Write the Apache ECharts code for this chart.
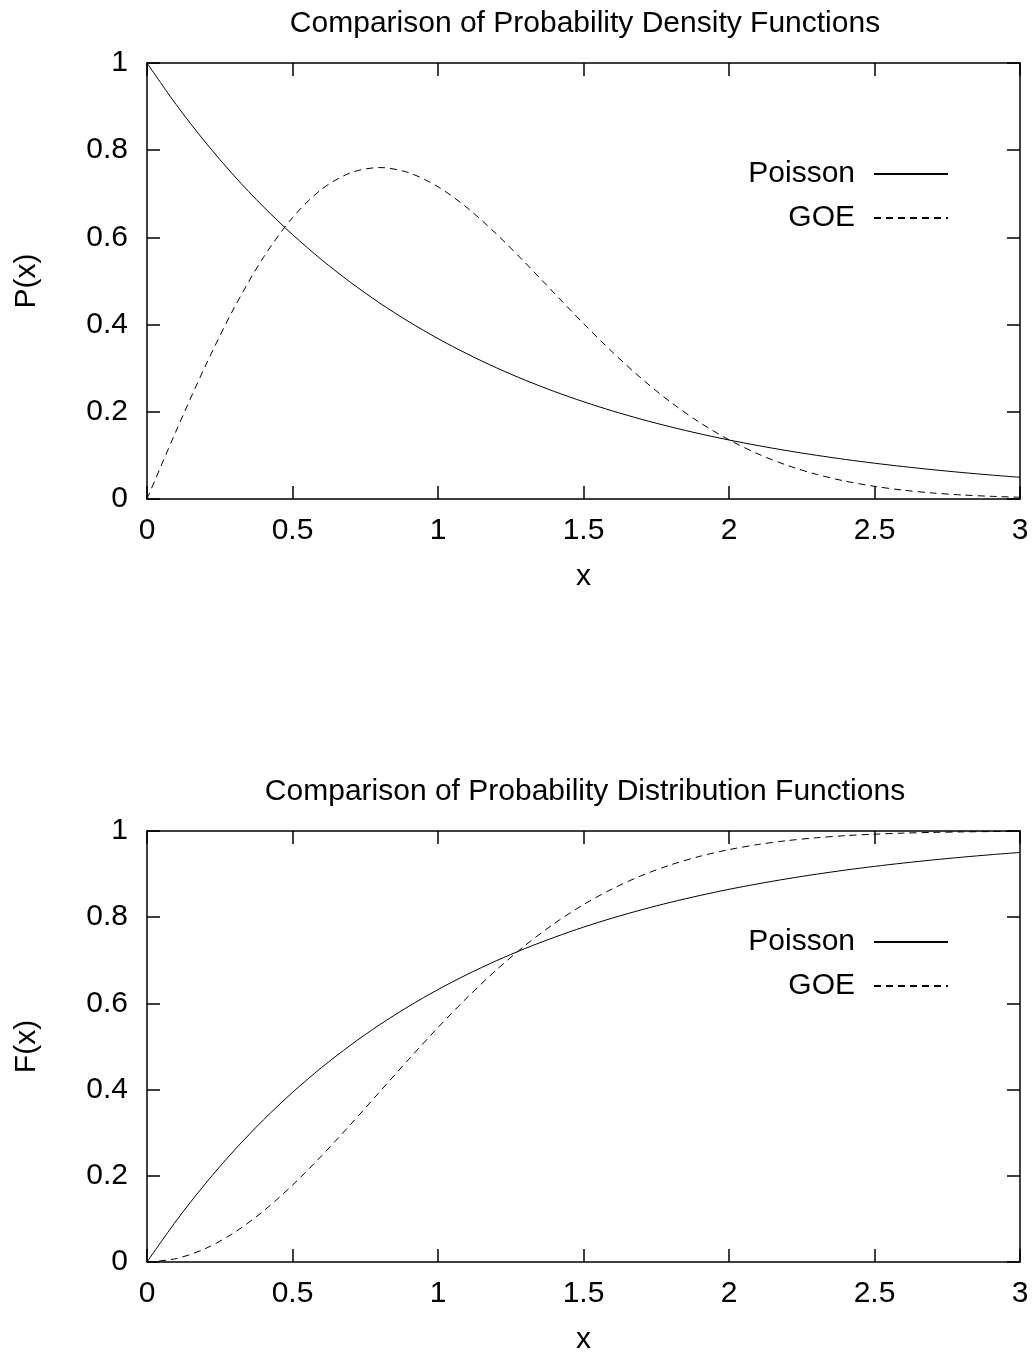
<!DOCTYPE html>
<html>
<head>
<meta charset="utf-8">
<script src="https://cdn.jsdelivr.net/npm/echarts@6/dist/echarts.min.js"></script>
<style>
html,body{margin:0;padding:0;background:#fff;}
#chart{width:1035px;height:1356px;}
</style>
</head>
<body>
<div id="chart"></div>
<script>
// Sample x positions (read along the x axis)
var xValues = [0,0.1,0.2,0.3,0.4,0.5,0.6,0.7,0.8,0.9,1.0,1.1,1.2,1.3,1.4,1.5,1.6,1.7,1.8,1.9,2.0,2.1,2.2,2.3,2.4,2.5,2.6,2.7,2.8,2.9,3.0];
// Top panel: probability density P(x)
var poissonPdf = [1,0.9048,0.8187,0.7408,0.6703,0.6065,0.5488,0.4966,0.4493,0.4066,0.3679,0.3329,0.3012,0.2725,0.2466,0.2231,0.2019,0.1827,0.1653,0.1496,0.1353,0.1225,0.1108,0.1003,0.0907,0.0821,0.0743,0.0672,0.0608,0.0550,0.0498];
var goePdf = [0,0.1559,0.3044,0.4391,0.5541,0.6454,0.7104,0.7483,0.7602,0.7483,0.7162,0.6680,0.6083,0.5416,0.4718,0.4025,0.3366,0.2759,0.2219,0.1752,0.1358,0.1033,0.0772,0.0567,0.0409,0.0290,0.0202,0.0138,0.0093,0.0062,0.0040];
// Bottom panel: distribution F(x)
var poissonCdf = [0,0.0952,0.1813,0.2592,0.3297,0.3935,0.4512,0.5034,0.5507,0.5934,0.6321,0.6671,0.6988,0.7275,0.7534,0.7769,0.7981,0.8173,0.8347,0.8504,0.8647,0.8775,0.8892,0.8997,0.9093,0.9179,0.9257,0.9328,0.9392,0.9450,0.9502];
var goeCdf = [0,0.0078,0.0309,0.0683,0.1181,0.1783,0.2463,0.3194,0.3951,0.4707,0.5441,0.6134,0.6773,0.7348,0.7855,0.8292,0.8661,0.8967,0.9215,0.9413,0.9568,0.9687,0.9777,0.9843,0.9892,0.9926,0.9951,0.9967,0.9979,0.9987,0.9991];

var titles = ['Comparison of Probability Density Functions','Comparison of Probability Distribution Functions'];
var yNames = ['P(x)','F(x)'];
var xName = 'x';
var seriesNames = ['Poisson','GOE'];

function pairs(vals){ return xValues.map(function(x,i){ return [x, vals[i]]; }); }

var FONT = '"Liberation Sans", Arial, Helvetica, sans-serif';
var FS = 30;
var fmt = function(v){ return String(+(+v).toFixed(2)); };

var gridTops = [63, 831];
var grids = gridTops.map(function(t){ return {left:147, top:t, width:873, height:436, containLabel:false}; });

var xAxes = [], yAxes = [];
[0,1].forEach(function(g){
  var lineStyle = {color:'#000', width:1.5};
  var tick = {show:true, inside:true, length:13, lineStyle:{color:'#000', width:1.5}};
  xAxes.push({
    type:'value', gridIndex:g, position:'bottom', min:0, max:3, interval:0.5,
    name:xName, nameLocation:'middle', nameGap:63,
    nameTextStyle:{fontFamily:FONT, fontSize:FS, color:'#000'},
    axisLine:{show:true, onZero:false, lineStyle:lineStyle},
    axisTick:tick,
    axisLabel:{show:true, margin:17, fontFamily:FONT, fontSize:FS, color:'#000', formatter:fmt, showMinLabel:true, showMaxLabel:true},
    splitLine:{show:false}
  });
  xAxes.push({
    type:'value', gridIndex:g, position:'top', min:0, max:3, interval:0.5,
    axisLine:{show:true, onZero:false, lineStyle:lineStyle},
    axisTick:tick,
    axisLabel:{show:false}, splitLine:{show:false}
  });
  yAxes.push({
    type:'value', gridIndex:g, position:'left', min:0, max:1, interval:0.2,
    name:yNames[g], nameLocation:'middle', nameGap:105, nameRotate:90,
    nameTextStyle:{fontFamily:FONT, fontSize:FS, color:'#000'},
    axisLine:{show:true, onZero:false, lineStyle:lineStyle},
    axisTick:tick,
    axisLabel:{show:true, margin:19, fontFamily:FONT, fontSize:FS, color:'#000', formatter:fmt, showMinLabel:true, showMaxLabel:true},
    splitLine:{show:false}
  });
  yAxes.push({
    type:'value', gridIndex:g, position:'right', min:0, max:1, interval:0.2,
    axisLine:{show:true, onZero:false, lineStyle:lineStyle},
    axisTick:tick,
    axisLabel:{show:false}, splitLine:{show:false}
  });
});

function lineSeries(name, vals, g, dashed){
  return {
    name:name, type:'line', xAxisIndex:g*2, yAxisIndex:g*2,
    data:pairs(vals), smooth:0.3, symbol:'none', showSymbol:false,
    lineStyle:{color:'#000', width:1, type: dashed ? [7,5] : 'solid'},
    itemStyle:{color:'#000'},
    animation:false, z:3
  };
}

var option = {
  animation:false,
  backgroundColor:'#fff',
  title:[
    {text:titles[0], left:580, textAlign:'center', top:4, textStyle:{fontFamily:FONT, fontSize:FS, fontWeight:'normal', color:'#000'}},
    {text:titles[1], left:580, textAlign:'center', top:772, textStyle:{fontFamily:FONT, fontSize:FS, fontWeight:'normal', color:'#000'}}
  ],
  grid:grids,
  xAxis:xAxes,
  yAxis:yAxes,
  legend:[153, 921].map(function(t){
    return {
      data:seriesNames, orient:'vertical', right:81, top:t, align:'right',
      itemWidth:74, itemHeight:14, itemGap:12, selectedMode:false,
      itemStyle:{color:'rgba(0,0,0,0)', borderColor:'rgba(0,0,0,0)', borderWidth:0},
      textStyle:{fontFamily:FONT, fontSize:FS, lineHeight:32, color:'#000', padding:[0,14,0,0]}
    };
  }),
  series:[
    lineSeries(seriesNames[0], poissonPdf, 0, false),
    lineSeries(seriesNames[1], goePdf, 0, true),
    lineSeries(seriesNames[0], poissonCdf, 1, false),
    lineSeries(seriesNames[1], goeCdf, 1, true)
  ]
};

var chart = echarts.init(document.getElementById('chart'), null, {renderer:'canvas'});
chart.setOption(option);
</script>
</body>
</html>
